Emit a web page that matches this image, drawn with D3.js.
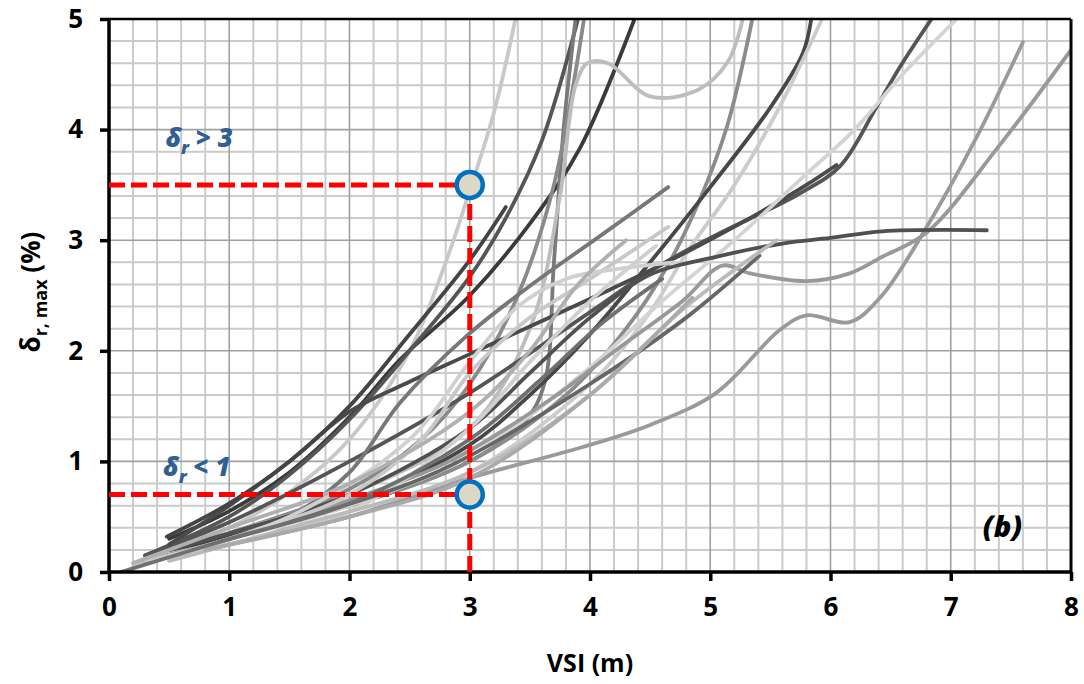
<!DOCTYPE html>
<meta charset="utf-8">
<style>
    body { margin: 0; background: #fff; }
    text { font-family: "Open Sans", Lato, sans-serif; font-weight: 700; fill: #000; }
    .grid line.minor { stroke: #cbcbcb; stroke-width: 2; }
    .grid line.major { stroke: #a0a0a0; stroke-width: 1.6; }
    .axis path, .axis line { stroke: #000; }
    path.run { fill: none; stroke-width: 3.8; stroke-linecap: round; stroke-linejoin: round; }
    .guide { stroke: #ff0000; stroke-width: 5; stroke-dasharray: 16, 6; fill: none; }
    .marker { fill: #ddd8c5; stroke: #0070c0; stroke-width: 4.5; }
    .note { fill: #2f5f94; font-style: italic; font-size: 26px; font-weight: 800; }
</style>
<body>
<script src="https://d3js.org/d3.v7.min.js"></script>
<script>

    // axes
    var xTicks = [0, 1, 2, 3, 4, 5, 6, 7, 8];
    var yTicks = [0, 1, 2, 3, 4, 5];

    // threshold markers (VSI, drift)
    var markerX = [3, 3];
    var markerY = [3.5, 0.7];

    // curves: [VSI, drift]
    var r01 = [[0.2,0.05],[1,0.4],[1.5,0.72],[2,1.2],[2.5,2.0],[2.8,2.8],[3.0,3.45],[3.2,4.15],[3.38,5.0]];
    var r02 = [[0.5,0.3],[1,0.55],[1.5,0.9],[2,1.4],[2.42,1.92],[3,2.5],[3.5,3.15],[3.92,3.84],[4.37,5.0]];
    var r03 = [[0.3,0.15],[1,0.5],[1.5,0.88],[2,1.38],[2.5,2.0],[3,2.67],[3.3,3.2],[3.6,3.9],[3.9,5.0]];
    var r04 = [[0.5,0.2],[1,0.35],[2,0.6],[3,1.0],[3.45,1.35],[3.62,1.7],[3.7,2.8],[3.78,4.0],[3.88,5.0]];
    var r05 = [[0.3,0.1],[1,0.35],[2,0.75],[2.6,1.2],[3.0,1.7],[3.4,2.5],[3.7,3.5],[3.95,5.0]];
    var r06 = [[0.3,0.1],[1,0.35],[2,0.7],[3,1.3],[3.5,2.2],[3.75,3.4],[3.88,4.4],[3.98,4.6],[4.15,4.6],[4.5,4.3],[4.9,4.36],[5.15,4.62],[5.27,5.0]];
    var r07 = [[0.5,0.2],[2,0.6],[3,1.0],[3.8,1.6],[4.3,2.2],[4.64,2.76],[4.91,3.36],[5.14,4.03],[5.35,5.0]];
    var r08 = [[0.5,0.2],[1,0.32],[2,0.62],[3,1.15],[3.5,1.6],[4,2.15],[4.5,2.8],[5.0,3.48],[5.5,4.2],[5.77,4.69],[5.84,5.0]];
    var r09 = [[0.5,0.15],[2,0.5],[3,0.9],[4,1.7],[4.5,2.35],[4.8,2.88],[5.19,3.48],[5.55,4.15],[5.93,5.0]];
    var r10 = [[0.3,0.15],[1,0.45],[2,1.0],[3,1.62],[4,2.35],[4.5,2.72],[5.0,3.02],[5.74,3.42],[6.08,3.67],[6.38,4.2],[6.58,4.57],[6.84,5.0]];
    var r11 = [[0.5,0.25],[1,0.6],[1.5,1.0],[2,1.45],[2.5,1.72],[3,1.97],[3.5,2.22],[4.16,2.55],[4.6,2.78],[5.33,3.2],[5.8,3.5],[6.05,3.68]];
    var r12 = [[1,0.3],[2,0.6],[3,1.05],[4,1.85],[4.6,2.45],[5.2,3.0],[5.8,3.6],[6.2,4.0],[6.6,4.5],[7.05,5.0]];
    var r13 = [[0.3,0.1],[1,0.25],[2,0.5],[3,0.85],[3.94,1.13],[4.5,1.33],[5.05,1.62],[5.58,2.19],[5.8,2.32],[6.16,2.26],[6.42,2.49],[6.8,3.12],[7.2,3.9],[7.6,4.79]];
    var r14 = [[1,0.3],[2,0.65],[2.83,1.0],[3.67,1.56],[4.22,2.01],[4.77,2.45],[5.1,2.77],[5.33,2.7],[5.8,2.63],[6.16,2.7],[6.43,2.85],[6.8,3.07],[7.4,3.85],[8.0,4.72]];
    var r15 = [[0.5,0.2],[1,0.35],[2,0.7],[3,1.3],[3.5,1.8],[4,2.3],[4.5,2.69],[5.05,2.85],[5.6,2.97],[6.0,3.02],[6.43,3.08],[7.3,3.09]];
    var r16 = [[0.3,0.1],[1,0.3],[1.5,0.5],[2,0.9],[2.42,1.53],[2.97,2.13],[3.53,2.61],[4.1,3.05],[4.65,3.48]];
    var r17 = [[0.3,0.1],[1,0.3],[2,0.7],[2.6,1.2],[3.0,1.8],[3.5,2.3],[4.0,2.65],[4.65,3.12]];
    var r18 = [[0.5,0.15],[2,0.55],[3,1.3],[3.5,1.9],[4.0,2.45],[4.55,2.95]];
    var r19 = [[0.5,0.15],[1.5,0.45],[2.5,0.8],[3,1.05],[4,1.7],[4.8,2.3],[5.41,2.86]];
    var r20 = [[0.5,0.1],[1.5,0.4],[3,0.9],[4,1.6],[4.8,2.4],[5.55,3.0]];
    var r21 = [[0.8,0.2],[2,0.5],[3,0.85],[4,1.6],[4.85,2.48]];
    var r22 = [[0.5,0.15],[1.5,0.5],[2.5,1.2],[3.0,1.9],[3.4,2.4],[3.8,2.65],[4.3,2.75],[4.7,2.8]];
    var r23 = [[0.1,0.0],[1,0.3],[2,0.62],[3,1.2],[3.6,1.75],[4.1,2.25],[4.6,2.65]];
    var r24 = [[0.48,0.32],[1,0.62],[1.5,1.0],[2,1.5],[2.5,2.15],[3,2.82],[3.3,3.3]];
    var r25 = [[0.2,0.08],[1,0.4],[2,0.8],[3,1.45],[3.5,2.0],[3.9,2.6],[4.3,3.0]];

    var runs = [r01, r02, r03, r04, r05, r06, r07, r08, r09, r10, r11, r12, r13,
                r14, r15, r16, r17, r18, r19, r20, r21, r22, r23, r24, r25];
    var shades = ["#c8c8c8", "#3a3a3a", "#555555", "#7a7a7a", "#8a8a8a", "#bdbdbd", "#8c8c8c",
                  "#474747", "#cccccc", "#555555", "#4a4a4a", "#d4d4d4", "#9a9a9a",
                  "#999999", "#505050", "#777777", "#c8c8c8", "#d0d0d0", "#666666",
                  "#bbbbbb", "#aaaaaa", "#d0d0d0", "#6f6f6f", "#444444", "#b0b0b0"];

    var margin = {top: 19, right: 13, bottom: 112, left: 109},
        width = 1084 - margin.left - margin.right,
        height = 684 - margin.top - margin.bottom;

    var x = d3.scaleLinear().domain([0, 8]).range([0, width]);
    var y = d3.scaleLinear().domain([0, 5]).range([height, 0]);

    var svg = d3.select("body").append("svg")
            .attr("width", 1084)
            .attr("height", 684);

    var g = svg.append("g")
            .attr("transform", "translate(" + margin.left + "," + margin.top + ")");

    g.append("clipPath")
            .attr("id", "plotClip")
        .append("rect")
            .attr("width", width)
            .attr("height", height);

    // grid, minor every 0.2
    var grid = g.append("g").attr("class", "grid");
    var xs = d3.range(0, 41).map(function(i) { return i / 5; });
    var ys = d3.range(0, 26).map(function(i) { return i / 5; });

    grid.selectAll("line.vx").data(xs).enter().append("line")
            .attr("class", function(d, i) { return i % 5 ? "minor" : "major"; })
            .attr("x1", x).attr("x2", x)
            .attr("y1", 0).attr("y2", height);
    grid.selectAll("line.hy").data(ys).enter().append("line")
            .attr("class", function(d, i) { return i % 5 ? "minor" : "major"; })
            .attr("y1", y).attr("y2", y)
            .attr("x1", 0).attr("x2", width);
    grid.selectAll("line.major").raise();

    var line = d3.line()
            .x(function(d) { return x(d[0]); })
            .y(function(d) { return y(d[1]); })
            .curve(d3.curveCatmullRom.alpha(0.5));

    g.append("g")
            .attr("clip-path", "url(#plotClip)")
        .selectAll("path.run").data(runs).enter().append("path")
            .attr("class", "run")
            .attr("stroke", function(d, i) { return shades[i]; })
            .attr("d", line);

    // frame
    g.append("line").attr("x1", 0).attr("x2", width).attr("y1", 0).attr("y2", 0)
            .attr("stroke", "#000").attr("stroke-width", 2.5);
    g.append("line").attr("x1", width).attr("x2", width).attr("y1", 0).attr("y2", height)
            .attr("stroke", "#000").attr("stroke-width", 3);

    var xAxis = d3.axisBottom(x).tickValues(xTicks).tickSize(9).tickPadding(17).tickFormat(d3.format("d"));
    var yAxis = d3.axisLeft(y).tickValues(yTicks).tickSize(9).tickPadding(17).tickFormat(d3.format("d"));

    var gx = g.append("g")
            .attr("class", "x axis")
            .attr("transform", "translate(0," + height + ")")
            .call(xAxis);
    var gy = g.append("g")
            .attr("class", "y axis")
            .call(yAxis);

    [gx, gy].forEach(function(a) {
        a.select(".domain").attr("stroke-width", 3.5);
        a.selectAll(".tick line").attr("stroke-width", 3.5);
        a.selectAll(".tick text").style("font-size", "26px").attr("fill", "#000");
    });
    gx.select(".domain").attr("d", "M0,0H" + width);
    gy.select(".domain").attr("d", "M0," + height + "V0");

    // threshold guides
    var guides = g.append("g");
    markerY.forEach(function(v, i) {
        guides.append("path")
                .attr("class", "guide")
                .attr("d", "M" + x(0) + "," + y(v) + "H" + x(markerX[i]));
    });
    guides.append("path")
            .attr("class", "guide")
            .attr("d", "M" + x(3) + "," + y(0) + "V" + y(d3.max(markerY)));

    g.selectAll("circle.marker").data(markerY).enter().append("circle")
            .attr("class", "marker")
            .attr("cx", function(d, i) { return x(markerX[i]); })
            .attr("cy", function(d) { return y(d); })
            .attr("r", 13);

    // notes
    function note(tx, ty, rest) {
        var t = g.append("text").attr("class", "note").attr("x", tx).attr("y", ty);
        t.append("tspan").text("δ");
        t.append("tspan").attr("dy", 7).style("font-size", "18px").text("r");
        t.append("tspan").attr("dy", -7).text(" " + rest);
    }
    note(x(0.47), y(3.84), "> 3");
    note(x(0.45), y(0.87), "< 1");

    g.append("text")
            .attr("x", x(7.43)).attr("y", y(0.32))
            .attr("text-anchor", "middle")
            .style("font-size", "29px").style("font-style", "italic").style("font-weight", 800)
            .text("(b)");

    // axis titles
    svg.append("text")
            .attr("x", margin.left + x(4)).attr("y", 672)
            .attr("text-anchor", "middle")
            .style("font-size", "25px")
            .text("VSI (m)");

    var yt = svg.append("text")
            .attr("transform", "translate(40,292) rotate(-90)")
            .attr("text-anchor", "middle")
            .style("font-size", "26px");
    yt.append("tspan").text("δ");
    yt.append("tspan").attr("dy", 7).style("font-size", "18px").text("r, max");
    yt.append("tspan").attr("dy", -7).text(" (%)");

</script>
